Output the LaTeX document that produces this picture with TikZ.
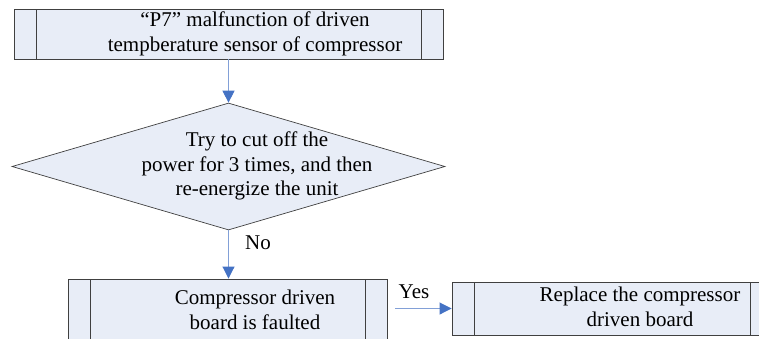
\documentclass[tikz,border=0pt]{standalone}
\usepackage{fontspec}
\setmainfont{Liberation Serif}
\usepackage{xcolor}
\usepackage{tikz}
\usetikzlibrary{shapes.geometric,arrows.meta}

\definecolor{boxfill}{RGB}{232,237,247}
\definecolor{boxline}{RGB}{64,64,64}
\definecolor{arrline}{RGB}{130,160,215}
\definecolor{arrhead}{RGB}{68,114,196}

\begin{document}
\begin{tikzpicture}[x=1pt, y=-1pt,
  proc/.style={draw=boxline, fill=boxfill, line width=0.9pt, inner sep=0pt,
    path picture={\draw[boxline, line width=0.9pt]
      ([xshift=22pt]path picture bounding box.north west) -- ([xshift=22pt]path picture bounding box.south west)
      ([xshift=-22pt]path picture bounding box.north east) -- ([xshift=-22pt]path picture bounding box.south east);}},
  decision/.style={diamond, draw=boxline, fill=boxfill, line width=0.7pt, inner sep=0pt},
  txt/.style={align=center, font=\fontsize{21}{24.5}\selectfont, inner sep=0pt},
  lbl/.style={font=\fontsize{21}{24}\selectfont, inner sep=0pt},
  arr/.style={draw=arrline, line width=0.9pt, -{Triangle[length=12pt, width=12pt, color=arrhead]}}]
  \clip (0,0) rectangle (759,338);
  % shapes
  \node[proc, minimum width=429pt, minimum height=50pt] (p7) at (228.5,34) {};
  \node[decision, minimum width=433pt, minimum height=127pt] (try) at (228.5,166.5) {};
  \node[proc, minimum width=319pt, minimum height=64pt] (fault) at (227.5,311) {};
  \node[proc, minimum width=320pt, minimum height=53pt] (repl) at (612,308.5) {};
  % texts
  \node[txt] (p7txt) at (255,34) {``P7'' malfunction of driven\\tempberature sensor of compressor};
  \node[txt] (trytxt) at (257,166) {Try to cut off the\\power for 3 times, and then\\re-energize the unit};
  \node[txt] (faulttxt) at (255,310) {Compressor driven\\board is faulted};
  \node[txt] (repltxt) at (640,307) {Replace the compressor\\driven board};
  % connectors
  \draw[arr] (p7.south -| try.north) -- (try.north);
  \draw[arr] (try.south) -- (try.south |- fault.north);
  \draw[arr] ([xshift=8pt]fault.east |- repl.west) -- (repl.west);
  \node[lbl] (no) at (258,243) {No};
  \node[lbl] (yes) at (414,292) {Yes};
\end{tikzpicture}
\end{document}
